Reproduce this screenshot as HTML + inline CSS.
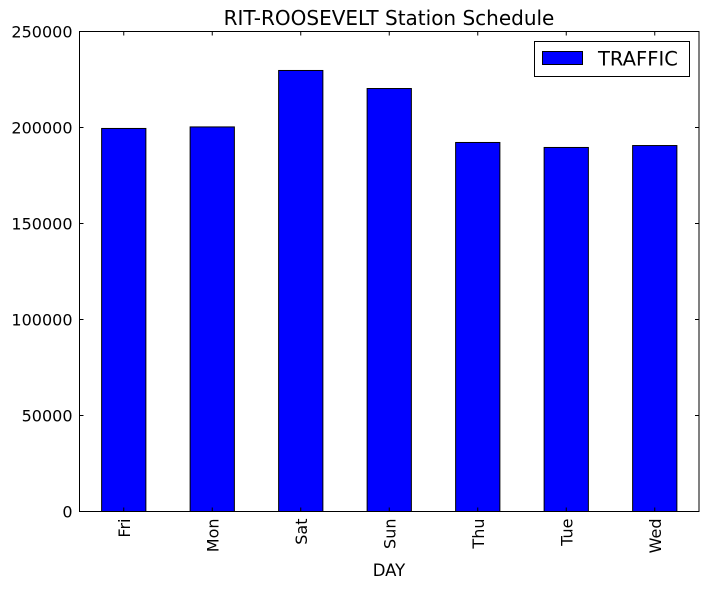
<!DOCTYPE html>
<html><head><meta charset="utf-8"><style>
body{margin:0;background:#fff}
svg{font-family:"DejaVu Sans","Liberation Sans",sans-serif}
</style></head><body>
<svg id="c" width="709" height="589" xmlns="http://www.w3.org/2000/svg">
<rect width="709" height="589" fill="#fff"/>
<text x="389" y="25" text-anchor="middle" font-size="20">RIT-ROOSEVELT Station Schedule</text>
<g id="bars"></g>
<g id="axes"></g>
<rect x="79.5" y="31.5" width="619.5" height="480" fill="none" stroke="#000" stroke-width="1"/>
<text x="389" y="576" text-anchor="middle" font-size="16.5">DAY</text>
<g>
<rect x="534.5" y="41.5" width="155" height="35" fill="#fff" stroke="#000"/>
<rect x="542.5" y="51.5" width="40" height="13" fill="#0000ff" stroke="#000"/>
<text x="598" y="65.5" font-size="19.5">TRAFFIC</text>
</g>
</svg>
<script>
const categories=["Fri","Mon","Sat","Sun","Thu","Tue","Wed"];
const traffic=[199500,200300,229700,220300,192200,189600,190600];
const yTicks=[0,50000,100000,150000,200000,250000];
const L=79.5,R=699,T=31.5,B=511.5,YMAX=250000;
const ns="http://www.w3.org/2000/svg";
const step=(R-L)/categories.length;
const xc=i=>L+step*(i+0.5);
const y=v=>B-(v/YMAX)*(B-T);
const bars=document.getElementById('bars'),axes=document.getElementById('axes');
function mk(t,a,p){const e=document.createElementNS(ns,t);for(const k in a)e.setAttribute(k,a[k]);p.appendChild(e);return e;}
categories.forEach((c,i)=>{
 const w=step*0.5;
 const r=mk('rect',{x:xc(i)-w/2,y:y(traffic[i]),width:w,height:B-y(traffic[i]),fill:'#0000ff',stroke:'#000','stroke-width':1},bars);
 
 
 mk('line',{x1:xc(i),x2:xc(i),y1:B,y2:B-4,stroke:'#000'},axes);
 mk('line',{x1:xc(i),x2:xc(i),y1:T,y2:T+4,stroke:'#000'},axes);
 const t=mk('text',{x:0,y:0,'font-size':16,'text-anchor':'end',transform:`translate(${xc(i)+6},${B+7}) rotate(-90)`},axes);
 t.textContent=c;
 
 
});
yTicks.forEach(v=>{
 mk('line',{x1:L,x2:L+4,y1:y(v),y2:y(v),stroke:'#000'},axes);
 mk('line',{x1:R-4,x2:R,y1:y(v),y2:y(v),stroke:'#000'},axes);
 const t=mk('text',{x:L-7,y:y(v)+6,'font-size':16,'text-anchor':'end'},axes);
 t.textContent=v;
 
 
});
</script>
</body></html>
